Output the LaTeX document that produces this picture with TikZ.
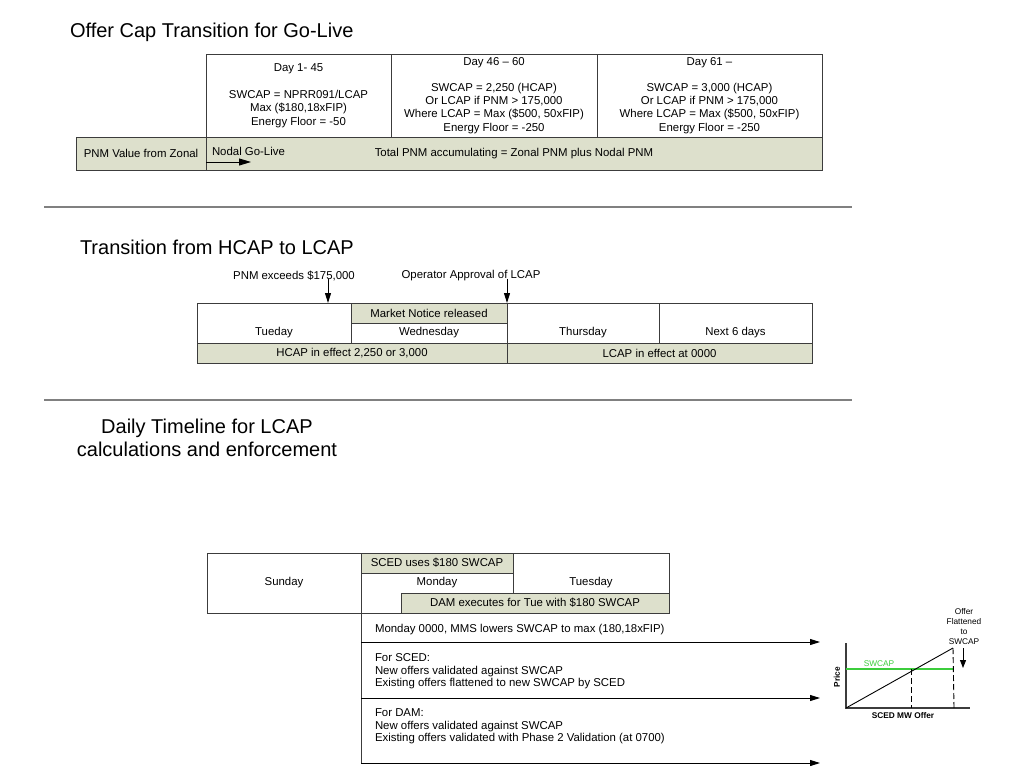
\documentclass[tikz,border=0pt]{standalone}
\usepackage{fontspec}
\setmainfont{Liberation Sans}
\usetikzlibrary{arrows.meta}

\definecolor{notegreen}{RGB}{221,224,204}
\definecolor{framegray}{RGB}{60,60,60}
\definecolor{rulegray}{RGB}{128,128,128}
\definecolor{capgreen}{RGB}{60,205,60}
\newcommand{\cellfont}{\fontsize{11.4}{13.4}\selectfont}
\newcommand{\headfont}{\fontsize{20}{23}\selectfont}
\newcommand{\chartfont}{\fontsize{8.3}{10.3}\selectfont}

\begin{document}
\begin{tikzpicture}[x=1pt, y=-1pt,
  every node/.style = {inner sep=0pt, outer sep=0pt},
  cell/.style = {draw=framegray, line width=0.9pt, fill=white,
    anchor=north west, align=center, font=\cellfont},
  shaded/.style = {cell, fill=notegreen},
  daytext/.style = {font=\cellfont},
  heading/.style = {font=\headfont, align=center},
  remark/.style = {font=\cellfont, align=left, anchor=west},
  pointer/.style = {draw=black, line width=0.9pt,
    -{Triangle[length=10pt,width=6pt]}},
  divider/.style = {draw=rulegray, line width=1.3pt},
  axis/.style = {draw=framegray, line width=1.2pt}]
  \useasboundingbox[fill=white] (0,0) rectangle (1024,768);

  % offer cap transition
  \node[heading, anchor=west] (captitle) at (70,32) {Offer Cap Transition for Go-Live};
  \node[cell, minimum width=185, minimum height=83] (early) at (206,54)
    {Day 1- 45\\[13.4pt]SWCAP = NPRR091/LCAP\\Max (\$180,18xFIP)\\Energy Floor = -50};
  \node[cell, minimum width=206, minimum height=83] (middle) at (391,54)
    {Day 46 – 60\\[12.6pt]SWCAP = 2,250 (HCAP)\\Or LCAP if PNM > 175,000\\Where LCAP = Max (\$500, 50xFIP)\\Energy Floor = -250};
  \node[cell, minimum width=225, minimum height=83] (late) at (597,54)
    {Day 61 –\\[12.6pt]SWCAP = 3,000 (HCAP)\\Or LCAP if PNM > 175,000\\Where LCAP = Max (\$500, 50xFIP)\\Energy Floor = -250};
  \node[shaded, minimum width=130, minimum height=33] (zonal) at (76,137) {PNM Value from Zonal};
  \node[shaded, minimum width=616, minimum height=33] (total) at (206,137)
    {Total PNM accumulating = Zonal PNM plus Nodal PNM};
  \node[remark] (golive) at (212,151) {Nodal Go-Live};
  \coordinate (gostart) at (206,162);
  \coordinate (goend) at (251,162);
  \draw[pointer, -{Triangle[length=12pt,width=7pt]}] (gostart) -- (goend);

  \draw[divider] (44,207) -- (852,207);

  % hcap to lcap
  \node[heading, anchor=west] (hcaptitle) at (80,247) {Transition from HCAP to LCAP};
  \node[cell, minimum width=154, minimum height=40] (tueday) at (197,303) {};
  \node[daytext] at ([yshift=10pt]tueday.south) {Tueday};
  \node[shaded, minimum width=156, minimum height=20] (notice) at (351,303) {Market Notice released};
  \node[cell, minimum width=156, minimum height=20] (wed) at (351,323) {Wednesday};
  \node[cell, minimum width=152, minimum height=40] (thu) at (507,303) {};
  \node[daytext] at ([yshift=10pt]thu.south) {Thursday};
  \node[cell, minimum width=153, minimum height=40] (nextdays) at (659,303) {};
  \node[daytext] at ([yshift=10pt]nextdays.south) {Next 6 days};
  \node[shaded, minimum width=310, minimum height=20] (hcap) at (197,343) {HCAP in effect 2,250 or 3,000};
  \node[shaded, minimum width=305, minimum height=20] (lcap) at (507,343) {LCAP in effect at 0000};
  \node[daytext] (exceeds) at (294,276) {PNM exceeds \$175,000};
  \node[daytext] (approval) at (471,276) {Operator Approval of LCAP};
  \coordinate (exceedtip) at (328,303);
  \draw[pointer] (exceedtip |- exceeds.base) -- (exceedtip);
  \draw[pointer] (notice.north east |- approval.base) -- (notice.north east);

  \draw[divider] (44,400) -- (852,400);

  % daily timeline
  \node[heading] (dailytitle) at (207,438) {Daily Timeline for LCAP\\calculations and enforcement};
  \node[cell, minimum width=154, minimum height=60] (sunday) at (207,553) {Sunday};
  \node[shaded, minimum width=152, minimum height=20] (scedcap) at (361,553) {SCED uses \$180 SWCAP};
  \node[cell, minimum width=152, minimum height=40] (monday) at (361,573) {};
  \node[daytext] at ([yshift=-10pt]monday.north) {Monday};
  \node[cell, minimum width=156, minimum height=40] (tuesday) at (513,553) {};
  \node[daytext] at ([yshift=10pt]tuesday.south) {Tuesday};
  \node[shaded, minimum width=268, minimum height=20] (damrun) at (401,593)
    {DAM executes for Tue with \$180 SWCAP};

  \node[remark] (mmsnote) at (375,630) {Monday 0000, MMS lowers SWCAP to max (180,18xFIP)};
  \node[remark, font=\fontsize{11.4}{12.5}\selectfont] (scednote) at (375,671.5)
    {For SCED:\\New offers validated against SWCAP\\Existing offers flattened to new SWCAP by SCED};
  \node[remark, font=\fontsize{11.4}{12.5}\selectfont] (damnote) at (375,726.5)
    {For DAM:\\New offers validated against SWCAP\\Existing offers validated with Phase 2 Validation (at 0700)};
  \coordinate (lane1) at (361,642);
  \coordinate (lane2) at (361,698);
  \coordinate (lane3) at (361,763);
  \draw[framegray, line width=0.9pt] (monday.south west) -- (lane3);
  \foreach \lane in {lane1,lane2,lane3}
    \draw[pointer] (\lane) -- ++(459,0);

  % offer chart
  \coordinate (origin) at (846,708);
  \draw[axis] (846,643) -- (origin) -- (970,708);
  \draw[capgreen, line width=1.2pt] (846,669) -- (954,669);
  \draw[black, line width=0.9pt] (origin) -- (953,648);
  \draw[black, line width=0.9pt, dash pattern=on 6pt off 3pt] (911,669) -- (911,708);
  \draw[black, line width=0.9pt, dash pattern=on 6pt off 3pt] (953,648) -- (954,708);
  \node[font=\chartfont, text=capgreen] (caplabel) at (879,664) {SWCAP};
  \node[font=\chartfont, align=center] (flatlabel) at (964,626.5) {Offer\\Flattened\\to\\SWCAP};
  \draw[pointer, -{Triangle[length=8pt,width=6pt]}] (963,648) -- (963,668);
  \node[font=\bfseries\chartfont, rotate=90] (pricelabel) at (837,677) {Price};
  \node[font=\bfseries\chartfont] (mwlabel) at (903,716) {SCED MW Offer};
\end{tikzpicture}
\end{document}
